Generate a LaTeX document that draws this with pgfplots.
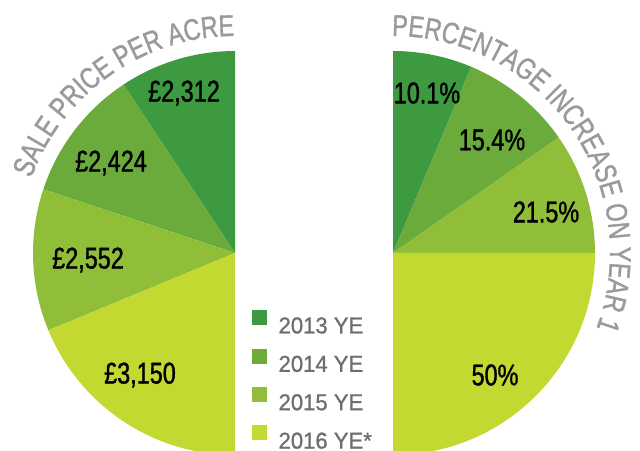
\documentclass[border=0pt]{standalone}
\usepackage{pgfplots}
\pgfplotsset{compat=1.18}
\usepackage{fontspec}
\setmainfont{Liberation Sans}
\newfontfamily\condfont[FakeStretch=0.78,FakeBold=1.2]{Liberation Sans}
\newfontfamily\legfont[FakeStretch=0.96,FakeBold=1.0]{Liberation Sans}
\usetikzlibrary{decorations.text}
\definecolor{c13}{RGB}{62,154,64}
\definecolor{c14}{RGB}{106,171,59}
\definecolor{c15}{RGB}{145,190,56}
\definecolor{c16}{RGB}{195,216,48}
\definecolor{titlegray}{RGB}{153,154,158}
\definecolor{leggray}{RGB}{109,110,113}
% slice: centre x, centre y, start angle, end angle, colour
\newcommand{\slice}[5]{\fill[#5] (axis cs:#1,#2) -- ++(#3:202pt) arc[start angle=#3, end angle=#4, radius=202pt] -- cycle;}
\begin{document}
\begin{tikzpicture}
\begin{axis}[
  width=640pt, height=450pt, scale only axis,
  xmin=0, xmax=640, ymin=0, ymax=450,
  hide axis,
  legend style={at={(axis cs:252,140)}, anchor=north west, draw=none, fill=none,
    inner sep=0pt, font=\legfont\fontsize{23}{23}\selectfont, text=leggray,
    row sep=15.2pt, column sep=0pt,
    nodes={inner sep=0pt, text height=16pt, text depth=0pt}},
  legend cell align=left,
  legend image code/.code={\fill[#1] (0pt,1pt) rectangle (14pt,15pt); \path (26pt,0pt);},
]
% ---- left half pie: sale price per acre (angles of slice boundaries) ----
\slice{235}{197}{90}{123.5}{c13}
\slice{235}{197}{123.5}{161.6}{c14}
\slice{235}{197}{161.6}{202.5}{c15}
\slice{235}{197}{202.5}{270}{c16}
% ---- right half pie: percentage increase on year 1 ----
\slice{393}{197}{90}{67.2}{c13}
\slice{393}{197}{67.2}{34.9}{c14}
\slice{393}{197}{34.9}{0}{c15}
\slice{393}{197}{0}{-90}{c16}
% ---- value labels ----
\begin{scope}[every node/.style={font=\condfont\fontsize{30}{30}\selectfont, text=black}]
\node at (axis cs:184,357) {£2,312};
\node at (axis cs:111,287) {£2,424};
\node at (axis cs:88,190) {£2,552};
\node at (axis cs:140,75) {£3,150};
\node at (axis cs:427,357) {10.1\%};
\node at (axis cs:492,310) {15.4\%};
\node at (axis cs:546,238) {21.5\%};
\node at (axis cs:495,75) {50\%};
\end{scope}
% ---- curved titles ----
\path[decorate, decoration={text along path, text align=center,
   text color=titlegray,
   text={|\condfont\fontsize{30}{30}\selectfont|SALE PRICE PER ACRE}}]
  (axis cs:235,197) ++(170:217pt) arc[start angle=170, end angle=80, radius=217pt];
\path[decorate, decoration={text along path, text align=center,
   text color=titlegray,
   text={|\condfont\fontsize{30}{30}\selectfont|PERCENTAGE INCREASE ON YEAR 1}}]
  (axis cs:393,197) ++(100:217pt) arc[start angle=100, end angle=-30, radius=217pt];
% ---- legend ----
\addlegendimage{c13}
\addlegendimage{c14}
\addlegendimage{c15}
\addlegendimage{c16}
\legend{2013 YE, 2014 YE, 2015 YE, 2016 YE*}
\end{axis}
\pgfresetboundingbox
\path[use as bounding box] (0,0) rectangle (640pt,450pt);
\end{tikzpicture}
\end{document}
